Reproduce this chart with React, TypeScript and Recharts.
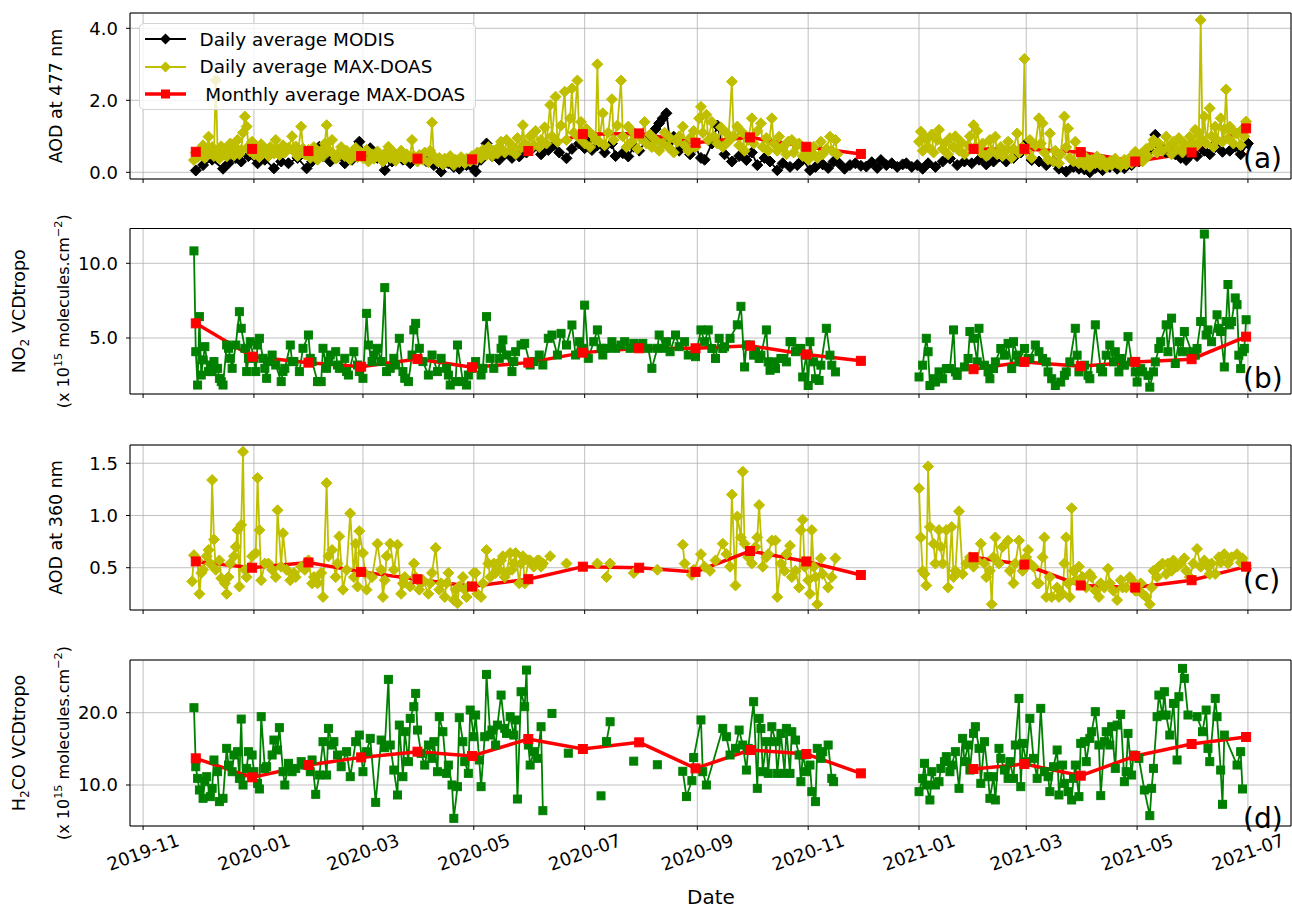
import React from 'react';
import { ComposedChart, Line, XAxis, YAxis, CartesianGrid, ReferenceArea, Legend, Customized } from 'recharts';

const FONT = 'DejaVu Sans';
const W = 1292;
const X_DOMAIN: [number, number] = [-7.2, 631.7];

// x values are days counted from 2019-11-01
const monthTicks = [0, 61, 121, 182, 243, 305, 366, 427, 486, 547, 608];
const monthLabels = ['2019-11', '2020-01', '2020-03', '2020-05', '2020-07', '2020-09', '2020-11', '2021-01', '2021-03', '2021-05', '2021-07'];

// month ends, Dec 2020 has no MAX-DOAS data
const monthEndDays = [29, 60, 91, 120, 151, 181, 212, 242, 273, 304, 334, 365, 395, 426, 457, 485, 516, 546, 577, 607];

const aod477Monthly = [0.57, 0.65, 0.59, 0.45, 0.38, 0.36, 0.59, 1.06, 1.08, 0.82, 0.97, 0.71, 0.51, null, 0.65, 0.65, 0.56, 0.3, 0.55, 1.22];
const no2Monthly = [5.98, 3.75, 3.35, 3.08, 3.59, 3.04, 3.35, 4.02, 4.31, 4.31, 4.48, 3.9, 3.47, null, 2.91, 3.4, 3.11, 3.4, 3.58, 5.09];
const aod360Monthly = [0.56, 0.5, 0.55, 0.46, 0.39, 0.32, 0.39, 0.51, 0.5, 0.46, 0.66, 0.56, 0.43, null, 0.6, 0.53, 0.33, 0.31, 0.38, 0.51];
const h2coMonthly = [13.69, 11.06, 12.76, 13.82, 14.61, 14.01, 16.36, 14.98, 15.9, 12.3, 14.84, 14.29, 11.61, null, 12.21, 12.9, 11.29, 14.01, 15.67, 16.64];

type Pt = [number, number | null];

const modisAod477: Pt[] = [
  [29,0.05],[33,0.2],[38,0.35],[44,0.1],[47,0.25],[51,0.4],[54,0.3],[58,0.45],[63,0.25],[67,0.35],[72,0.11],[76,0.3],[80,0.25],[85,0.4],[90,0.11],[93,0.3],[97,0.71],[99,0.45],[103,0.3],[107,0.42],[111,0.25],[115,0.35],[119,0.85],[122,0.55],[125,0.67],[129,0.4],[133,0.06],[137,0.3],[141,0.45],[143,0.35],[147,0.25],[151,0.4],[156,0.3],[160,0.2],[164,0.02],[168,0.25],[171,0.15],[174,0.1],[178,0.2],[181,0.15],[183,0.02],[186,0.35],[189,0.8],[192,0.45],[196,0.35],[199,0.5],[203,0.4],[207,0.44],[211,0.55],[215,0.7],[219,0.5],[223,0.62],[226,0.75],[229,0.55],[233,0.39],[236,0.65],[240,0.8],[243,0.67],[245,0.9],[247,0.62],[250,0.75],[254,0.55],[258,0.8],[260,0.45],[264,0.53],[267,0.44],[270,0.71],[273,0.6],[277,0.9],[280,1.0],[282,1.2],[284,1.36],[286,1.5],[288,1.64],[290,0.85],[292,0.99],[295,0.6],[298,0.75],[301,0.5],[304,0.7],[307,0.4],[309,0.35],[313,0.8],[316,1.3],[320,0.5],[324,0.3],[328,0.45],[332,0.34],[335,0.55],[338,0.2],[342,0.4],[345,0.3],[349,0.06],[352,0.25],[356,0.15],[360,0.2],[363,0.35],[367,0.06],[370,0.15],[374,0.22],[377,0.12],[380,0.3],[383,0.25],[386,0.1],[389,0.2],[392,0.25],[395,0.18],[398,0.16],[401,0.28],[404,0.12],[406,0.34],[409,0.2],[412,0.25],[415,0.15],[418,0.22],[420,0.25],[423,0.15],[426,0.2],[429,0.1],[432,0.25],[436,0.15],[440,0.3],[444,0.38],[448,0.2],[452,0.3],[456,0.25],[460,0.35],[464,0.22],[468,0.3],[471,0.44],[475,0.3],[479,0.4],[483,0.55],[486,0.8],[489,0.34],[493,0.3],[497,0.2],[501,0.3],[504,0.1],[508,0.02],[512,0.15],[515,0.1],[518,0.08],[521,0.0],[524,0.12],[528,0.06],[532,0.15],[536,0.1],[540,0.11],[544,0.2],[548,0.3],[552,0.45],[554,0.6],[557,1.04],[560,0.7],[563,0.55],[565,0.71],[568,0.5],[571,0.4],[574,0.34],[577,0.5],[580,0.45],[584,0.6],[587,0.5],[590,0.7],[594,0.57],[598,0.6],[601,0.71],[604,0.5],[608,0.8],
];

const doasAod477: Pt[] = [
  [28,0.34],[29,0.55],[30,0.42],[31,0.62],[32,0.48],[33,0.75],[34,0.4],[35,0.58],[36,0.99],[37,0.52],[38,0.7],[39,0.45],[40,2.56],[41,0.6],[42,0.38],[43,0.72],[44,0.5],[45,0.64],[46,0.44],[48,0.8],[49,0.55],[50,0.47],[51,0.68],[52,0.9],[53,0.5],[54,0.62],[55,1.1],[56,1.55],[57,1.27],[58,0.72],[59,0.58],[60,0.85],[61,0.5],[63,0.66],[64,0.42],[65,0.78],[66,0.55],[68,0.6],[69,0.45],[70,0.7],[72,0.52],[73,0.9],[74,0.62],[75,0.48],[77,0.75],[78,0.55],[80,0.68],[82,1.0],[83,0.58],[84,0.72],[85,0.45],[87,1.27],[88,0.66],[89,0.5],[91,0.62],[92,0.4],[94,0.7],[95,0.52],[96,0.35],[98,0.6],[99,0.45],[100,0.8],[101,1.31],[102,0.62],[104,0.9],[105,0.5],[106,0.38],[108,0.55],[109,0.7],[111,0.45],[112,0.6],[114,0.35],[115,0.52],[117,0.68],[118,0.42],[120,0.55],[121,0.4],[123,0.62],[124,0.3],[126,0.5],[127,0.38],[129,0.58],[130,0.44],[132,0.3],[133,0.52],[135,0.71],[136,0.4],[138,0.55],[139,0.32],[141,0.48],[142,0.6],[144,0.36],[145,0.5],[147,0.42],[148,0.9],[149,0.45],[151,0.3],[152,0.48],[154,0.35],[155,0.55],[157,0.28],[158,0.6],[159,1.38],[160,0.45],[162,0.3],[163,0.4],[165,0.22],[166,0.38],[168,0.3],[169,0.45],[171,0.2],[172,0.35],[174,0.28],[175,0.42],[177,0.25],[178,0.38],[180,0.3],[181,0.45],[183,0.35],[184,0.55],[186,0.4],[187,0.62],[189,0.48],[190,0.7],[192,0.45],[193,0.6],[195,0.52],[196,0.71],[197,0.85],[199,0.55],[200,0.9],[202,0.62],[203,0.75],[205,0.5],[206,0.95],[208,0.68],[209,1.31],[210,0.8],[212,0.6],[213,1.0],[215,0.75],[216,1.15],[218,0.7],[219,0.9],[221,1.25],[222,0.8],[224,1.87],[225,1.0],[227,2.1],[228,0.85],[230,1.3],[232,2.24],[233,0.9],[235,1.5],[236,2.33],[237,1.1],[239,2.55],[240,0.95],[241,1.4],[243,0.8],[244,1.2],[246,0.7],[247,1.05],[249,0.9],[250,3.0],[251,0.85],[253,1.64],[254,0.75],[256,1.1],[258,2.03],[259,0.9],[261,1.3],[263,2.55],[264,1.0],[266,0.7],[267,1.27],[269,0.85],[270,1.1],[272,0.65],[274,0.95],[276,1.4],[277,0.8],[279,1.05],[280,0.7],[282,0.9],[284,0.6],[286,0.8],[287,1.1],[289,0.7],[290,0.95],[292,0.55],[294,0.85],[295,1.0],[297,1.27],[298,0.75],[300,0.6],[301,0.95],[303,1.15],[304,0.7],[306,1.5],[307,1.82],[308,1.1],[310,1.6],[311,0.9],[313,1.4],[314,1.0],[316,0.8],[318,1.25],[319,0.7],[321,1.1],[322,0.85],[324,2.52],[325,1.0],[327,1.27],[328,0.75],[330,1.1],[331,0.6],[333,0.9],[335,1.5],[336,0.8],[338,1.15],[340,1.36],[341,0.7],[343,0.95],[344,0.6],[346,1.5],[347,0.8],[349,0.6],[350,0.99],[352,0.7],[354,0.5],[355,0.85],[357,0.9],[358,0.55],[360,0.75],[361,0.8],[363,0.45],[365,0.6],[366,0.35],[368,0.55],[369,0.71],[371,0.4],[373,0.85],[374,0.5],[376,0.65],[378,0.99],[379,0.6],[381,0.9],[382,0.5],
  [383,null],
  [427,0.85],[428,1.13],[429,0.6],[431,0.95],[432,0.7],[434,1.05],[435,0.55],[437,0.9],[438,1.18],[440,0.65],[441,0.8],[443,0.5],[444,0.95],[446,0.7],[447,1.0],[449,0.6],[450,0.85],[452,0.5],[454,0.75],[455,1.0],[457,1.31],[458,0.7],[459,1.15],[461,0.55],[462,0.8],[464,0.45],[466,0.9],[467,0.6],[469,0.99],[470,0.5],[472,0.7],[473,0.45],[475,0.6],[476,0.85],[478,0.4],[479,0.65],[481,1.08],[482,0.55],[484,0.7],[485,3.15],[486,0.6],[488,0.9],[489,0.4],[491,0.75],[493,1.5],[494,0.8],[495,1.36],[496,0.55],[498,0.35],[499,1.08],[501,0.3],[502,0.6],[504,0.25],[505,0.5],[507,1.55],[508,0.7],[509,1.22],[510,0.4],[512,0.3],[513,0.85],[515,0.25],[516,0.5],[518,0.2],[519,0.4],[521,0.15],[522,0.35],[524,0.25],[525,0.44],[527,0.2],[528,0.35],[530,0.15],[532,0.3],[533,0.2],[535,0.38],[536,0.25],[538,0.18],[540,0.35],[541,0.22],[543,0.4],[544,0.25],[546,0.57],[547,0.35],[549,0.5],[550,0.3],[552,0.65],[553,0.45],[555,0.75],[556,0.9],[558,0.55],[559,0.8],[561,0.6],[563,0.99],[564,0.7],[566,0.5],[567,0.85],[569,0.65],[570,0.95],[572,0.55],[573,0.8],[575,0.7],[576,0.99],[578,0.8],[579,1.18],[580,0.75],[581,1.1],[582,4.23],[583,0.9],[584,1.55],[585,0.8],[587,1.78],[588,1.0],[589,0.7],[590,1.27],[591,0.9],[593,1.5],[594,0.85],[595,1.2],[596,2.3],[597,0.95],[598,1.27],[600,0.8],[601,1.1],[602,1.08],[604,0.75],[605,1.2],[606,1.0],[607,1.41],
];

const no2Daily: Pt[] = [
  [28,10.83],[29,4.08],[30,1.85],[31,6.43],[32,2.52],[33,3.53],[34,4.42],[36,2.75],[37,3.19],[38,2.75],[39,3.42],[41,2.97],[42,2.3],[43,2.08],[44,1.85],[46,4.53],[47,4.31],[48,3.64],[49,2.97],[51,4.53],[53,6.76],[54,5.65],[56,4.31],[57,2.75],[58,3.64],[59,4.75],[61,3.64],[62,2.75],[63,4.53],[64,4.98],[66,3.64],[67,2.97],[68,2.3],[69,3.42],[71,3.86],[73,3.19],[76,2.08],[77,2.75],[78,2.97],[81,4.53],[82,3.42],[83,3.42],[86,2.75],[88,4.31],[91,5.2],[92,3.64],[93,3.42],[96,2.08],[98,2.08],[99,4.31],[101,2.97],[102,3.42],[103,3.86],[106,4.08],[107,3.19],[108,2.97],[111,3.64],[112,2.75],[113,2.52],[116,4.08],[118,3.19],[119,2.75],[121,2.3],[123,6.65],[124,4.53],[126,3.42],[127,3.86],[129,4.31],[131,3.42],[133,8.37],[134,2.75],[136,2.97],[138,3.64],[139,3.19],[141,4.98],[143,2.75],[144,2.3],[146,2.08],[148,3.86],[149,5.54],[150,5.98],[152,4.31],[154,3.42],[157,2.52],[159,3.86],[162,2.75],[164,3.64],[167,2.97],[168,2.52],[169,1.85],[172,2.08],[173,4.53],[176,2.08],[178,1.85],[179,2.52],[181,2.97],[183,3.42],[186,2.52],[187,2.97],[189,6.43],[191,3.64],[193,2.97],[196,3.64],[197,4.31],[198,4.87],[200,3.86],[203,2.75],[204,3.42],[205,4.08],[208,4.53],[210,4.64],[213,3.19],[215,3.42],[218,3.86],[220,3.19],[223,4.98],[225,5.2],[228,3.86],[230,5.31],[233,4.53],[236,5.87],[238,3.86],[240,4.75],[242,4.31],[243,7.2],[245,3.64],[248,4.75],[250,5.54],[252,4.31],[253,3.86],[255,4.31],[258,4.75],[260,4.31],[263,4.53],[265,4.75],[268,4.31],[270,4.64],[273,4.42],[275,4.64],[278,4.31],[280,2.97],[283,4.31],[284,5.2],[287,4.31],[288,4.75],[290,4.08],[293,5.2],[295,4.42],[298,4.75],[300,3.86],[304,3.75],[307,5.54],[309,4.75],[311,5.54],[313,4.3],[315,3.63],[317,4.98],[319,4.3],[320,4.41],[323,4.98],[327,5.88],[329,7.12],[331,3.06],[332,4.53],[334,4.53],[336,3.85],[337,4.08],[339,3.63],[340,3.85],[343,5.54],[344,3.4],[345,2.84],[347,3.4],[348,2.95],[351,3.63],[352,3.63],[354,3.4],[356,4.75],[357,4.75],[359,4.08],[361,4.3],[362,4.3],[363,2.39],[365,3.85],[366,1.82],[367,4.75],[369,3.4],[370,2.27],[372,2.16],[373,3.18],[376,5.65],[378,3.85],[379,3.18],[381,2.73],
  [382,null],
  [427,2.39],[429,3.18],[431,4.98],[432,4.08],[433,1.82],[435,2.27],[436,2.05],[438,2.73],[440,2.27],[442,2.95],[444,2.95],[446,5.54],[447,2.73],[448,2.5],[452,3.06],[454,3.63],[455,5.43],[457,4.98],[459,3.4],[460,5.65],[463,3.18],[465,2.73],[466,2.27],[468,2.95],[469,3.4],[472,4.3],[474,3.85],[476,4.64],[478,2.95],[479,4.75],[481,3.85],[482,3.4],[485,4.3],[487,3.63],[488,3.63],[491,4.53],[493,4.08],[495,3.63],[497,3.4],[498,2.73],[500,2.27],[502,1.82],[505,2.05],[507,2.5],[508,2.73],[510,3.4],[513,5.65],[514,3.85],[515,2.73],[518,3.18],[520,2.5],[521,2.27],[524,5.88],[527,2.95],[528,2.73],[530,3.85],[532,4.53],[534,3.4],[535,4.08],[537,2.73],[538,3.63],[540,3.18],[542,5.09],[544,3.4],[546,2.73],[547,2.05],[549,2.95],[550,2.73],[553,2.5],[554,1.71],[556,2.73],[557,3.4],[559,4.3],[560,4.75],[563,5.88],[564,4.08],[566,6.33],[568,3.29],[570,4.75],[572,4.08],[573,5.43],[577,4.08],[579,3.85],[580,4.3],[582,6.1],[584,11.96],[585,5.2],[586,5.54],[588,4.75],[591,6.55],[592,5.65],[593,5.43],[595,3.06],[596,6.1],[597,8.58],[598,5.88],[599,6.1],[601,7.68],[602,7.23],[603,3.85],[604,2.95],[605,4.08],[606,4.3],[607,6.22],
];

const aod360Daily: Pt[] = [
  [27,0.37],[28,0.62],[30,0.57],[31,0.25],[32,0.45],[33,0.48],[35,0.61],[36,0.67],[37,0.54],[38,1.34],[39,0.77],[40,0.48],[42,0.57],[43,0.4],[45,0.35],[46,0.25],[47,0.41],[48,0.54],[50,0.61],[51,0.7],[52,0.86],[53,0.32],[54,0.91],[55,1.61],[56,0.48],[57,0.41],[59,0.51],[60,0.61],[62,0.64],[63,1.36],[64,0.86],[65,0.38],[67,0.54],[69,0.54],[71,0.48],[73,0.41],[74,1.05],[76,0.51],[77,0.83],[79,0.48],[81,0.38],[83,0.45],[84,0.41],[87,0.51],[89,0.48],[91,0.57],[93,0.35],[94,0.41],[96,0.35],[98,0.45],[99,0.22],[101,1.31],[102,0.61],[104,0.67],[106,0.41],[107,0.54],[108,0.8],[110,0.29],[112,0.48],[114,1.02],[116,0.41],[117,0.73],[118,0.32],[119,0.85],[121,0.64],[122,0.45],[123,0.29],[126,0.41],[129,0.73],[131,0.48],[132,0.22],[133,0.38],[134,0.61],[136,0.73],[138,0.48],[140,0.72],[142,0.25],[143,0.35],[144,0.41],[147,0.32],[149,0.54],[150,0.41],[152,0.29],[153,0.35],[154,0.38],[157,0.25],[158,0.35],[159,0.45],[161,0.69],[163,0.29],[164,0.35],[166,0.22],[167,0.35],[168,0.45],[171,0.19],[172,0.29],[173,0.16],[174,0.32],[176,0.41],[177,0.29],[178,0.22],[179,0.32],[181,0.32],[182,0.45],[183,0.45],[184,0.25],[186,0.22],[187,0.35],[189,0.67],[190,0.54],[191,0.41],[193,0.54],[194,0.45],[196,0.48],[197,0.57],[198,0.61],[199,0.41],[200,0.45],[202,0.64],[203,0.48],[204,0.54],[205,0.64],[207,0.35],[208,0.54],[209,0.61],[210,0.35],[212,0.57],[213,0.57],[214,0.54],[215,0.51],[217,0.57],[218,0.57],[219,0.51],[220,0.54],[224,0.61],
  [228,null],[233,0.54],[236,null],[250,0.54],[253,null],[255,0.41],[257,0.54],[262,null],[270,0.45],[276,null],[283,0.48],[290,null],
  [297,0.72],[298,0.54],[302,0.43],[303,0.48],[307,0.63],[309,0.51],[312,0.47],[315,0.57],[319,0.73],[321,0.63],[323,0.51],[324,1.2],[326,0.33],[327,0.99],[329,0.79],[330,1.42],[331,0.73],[333,0.6],[335,0.54],[337,0.7],[338,0.79],[339,1.1],[341,0.51],[343,0.6],[344,0.63],[346,0.76],[348,0.76],[349,0.22],[351,0.54],[353,0.47],[354,0.63],[356,0.71],[357,0.41],[359,0.47],[361,0.31],[362,0.86],[363,0.96],[364,0.51],[366,0.38],[367,0.25],[368,0.86],[369,0.51],[370,0.41],[371,0.15],[373,0.59],[374,0.44],[377,0.31],[379,0.41],[381,0.59],
  [382,null],
  [427,1.26],[428,0.79],[429,0.47],[430,0.44],[431,0.33],[432,1.47],[433,0.89],[435,0.73],[436,0.54],[438,0.86],[439,0.7],[440,0.54],[442,0.86],[443,0.31],[445,0.89],[446,0.41],[447,0.47],[449,1.04],[451,0.44],[453,0.54],[455,0.6],[457,0.51],[459,0.57],[461,0.73],[463,0.54],[464,0.41],[466,0.47],[467,0.15],[468,0.6],[469,0.79],[471,0.54],[473,0.7],[476,0.76],[477,0.47],[479,0.35],[480,0.54],[482,0.76],[484,0.47],[486,0.6],[487,0.67],[488,0.54],[490,0.51],[492,0.35],[493,0.35],[495,0.6],[496,0.79],[497,0.22],[499,0.41],[500,0.22],[503,0.31],[504,0.22],[506,0.25],[507,0.54],[508,0.79],[509,0.35],[510,0.22],[511,1.07],[512,0.47],[513,0.38],[515,0.51],[517,0.41],[519,0.31],[521,0.44],[522,0.41],[524,0.28],[526,0.22],[527,0.35],[529,0.31],[531,0.49],[532,0.35],[534,0.28],[536,0.19],[538,0.38],[539,0.31],[541,0.31],[543,0.41],[544,0.38],[546,0.28],[547,0.28],[549,0.35],[550,0.25],[552,0.22],[554,0.15],[555,0.31],[556,0.47],[558,0.41],[559,0.51],[561,0.54],[563,0.44],[564,0.54],[566,0.47],[567,0.57],[569,0.51],[571,0.54],[573,0.59],[574,0.47],[576,0.41],[578,0.54],[580,0.68],[582,0.51],[584,0.57],[586,0.51],[587,0.44],[588,0.54],[590,0.44],[592,0.6],[593,0.55],[595,0.63],[597,0.54],[599,0.6],[602,0.63],[604,0.55],[605,0.59],[607,0.52],
];

const h2coDaily: Pt[] = [
  [28,20.69],[29,12.53],[30,10.92],[31,9.31],[33,8.16],[34,10.46],[35,11.15],[37,8.39],[38,9.54],[39,13.46],[41,11.84],[42,7.7],[44,8.16],[46,15.07],[47,12.76],[49,11.84],[50,14.15],[52,14.61],[53,10.92],[54,19.12],[55,10.0],[57,12.3],[58,14.61],[60,14.15],[61,11.84],[63,10.23],[64,9.45],[65,19.45],[67,12.3],[68,12.53],[71,14.15],[72,16.22],[74,14.84],[75,17.93],[77,11.84],[78,10.0],[80,13.0],[82,11.84],[84,12.3],[87,13.23],[89,12.76],[92,11.84],[93,13.46],[95,8.71],[97,11.38],[99,15.99],[101,11.38],[102,17.83],[104,15.53],[105,15.99],[107,14.15],[109,12.53],[112,14.61],[114,11.15],[117,15.99],[119,16.91],[121,11.84],[123,14.61],[125,16.45],[128,7.6],[131,16.22],[133,15.16],[135,24.61],[136,15.53],[138,12.07],[140,8.62],[141,18.29],[143,11.15],[144,17.37],[146,13.23],[147,19.22],[149,20.83],[150,22.67],[151,17.6],[153,14.38],[155,12.76],[157,15.53],[159,13.69],[160,15.99],[162,11.84],[163,19.45],[165,17.37],[167,11.61],[168,12.76],[170,10.0],[171,5.39],[173,9.77],[174,19.31],[176,15.99],[177,13.23],[179,11.61],[180,20.37],[182,16.68],[183,19.68],[185,13.46],[186,9.77],[188,16.68],[189,25.3],[191,16.91],[192,17.6],[194,15.53],[195,18.29],[197,22.44],[199,17.83],[200,17.14],[202,19.45],[204,16.91],[205,18.99],[206,8.06],[208,22.9],[210,20.83],[211,25.9],[212,15.53],[213,12.76],[215,14.61],[217,13.69],[219,18.06],[220,6.45],
  [222,null],[225,19.9],[229,null],[234,14.4],[240,null],[252,8.5],[253,null],[255,16.0],[257,18.75],[263,null],[270,13.3],[276,null],[283,12.8],[290,null],
  [297,11.9],[299,8.4],[302,10.6],[303,13.8],[307,19.0],[308,11.84],[310,10.0],[319,17.83],[321,16.68],[323,14.15],[326,15.07],[328,17.6],[330,15.53],[332,12.07],[333,15.07],[336,21.52],[338,9.54],[339,19.22],[340,17.83],[341,11.84],[343,15.99],[344,11.61],[346,18.06],[348,15.99],[349,11.61],[351,17.14],[353,11.61],[354,17.83],[356,11.61],[357,17.37],[359,16.22],[361,14.15],[362,10.46],[363,14.15],[365,11.84],[367,12.76],[368,9.08],[370,7.7],[371,15.07],[373,13.69],[374,14.61],[377,15.53],[379,10.92],[380,10.46],
  [381,null],
  [427,9.08],[429,10.92],[430,13.0],[431,10.0],[433,7.93],[434,11.84],[436,10.0],[438,10.46],[439,12.3],[441,13.23],[442,13.92],[444,11.84],[445,12.76],[447,14.61],[449,9.54],[451,16.45],[452,13.23],[454,15.53],[455,12.07],[457,17.14],[458,18.06],[460,15.07],[461,10.23],[463,15.99],[465,11.15],[466,8.16],[468,11.15],[469,7.93],[471,15.07],[472,13.69],[474,12.07],[476,10.92],[477,13.23],[479,10.92],[480,15.53],[482,21.98],[483,9.77],[484,15.76],[486,13.23],[488,19.22],[490,13.69],[492,10.92],[494,20.6],[496,11.84],[498,11.15],[499,9.08],[501,12.53],[503,14.84],[504,8.62],[506,12.76],[507,10.23],[509,9.08],[511,7.93],[512,10.92],[513,12.76],[515,8.39],[516,15.76],[518,15.99],[519,13.23],[521,16.45],[522,17.37],[524,20.14],[526,15.53],[527,8.53],[529,15.99],[530,17.37],[532,15.53],[533,18.06],[535,12.3],[536,18.29],[538,19.77],[540,10.46],[541,11.84],[542,17.14],[544,11.38],[545,14.15],[548,13.69],[551,9.31],[554,5.76],[555,9.54],[556,12.3],[558,19.45],[559,22.44],[561,19.68],[562,22.9],[563,19.68],[565,16.91],[567,21.29],[569,13.46],[570,22.21],[572,26.13],[573,24.75],[575,19.68],[580,19.45],[583,17.37],[585,20.37],[586,15.07],[587,13.23],[590,21.98],[591,19.45],[593,12.07],[594,7.33],[595,16.91],[602,12.76],[604,14.61],[605,9.45],
];

const YELLOW = '#bfbf00';
const GREEN = '#008000';
const RED = '#ff0000';

const rows = (pts: Pt[]) => pts.map(([d, v]) => ({ d, v }));
const monthlyRows = (vals: (number | null)[]) => monthEndDays.map((d, i) => ({ d, v: vals[i] }));

const diamondDot = (color: string, r: number) => (props: any) => {
  const { cx, cy, index, value } = props;
  if (cx == null || cy == null || value == null) return <g key={`e${index}`} />;
  return (
    <path key={`m${index}`} d={`M${cx},${cy - r}L${cx + r},${cy}L${cx},${cy + r}L${cx - r},${cy}Z`} fill={color} stroke={color} strokeWidth={1} />
  );
};

const squareDot = (color: string, s: number) => (props: any) => {
  const { cx, cy, index, value } = props;
  if (cx == null || cy == null || value == null) return <g key={`e${index}`} />;
  return <rect key={`m${index}`} x={cx - s / 2} y={cy - s / 2} width={s} height={s} fill={color} stroke={color} strokeWidth={1} />;
};

const NoTick = () => <g />;

const DateTick = (props: any) => {
  const { x, y, payload } = props;
  const i = monthTicks.indexOf(payload.value);
  const cy = y + 20;
  return (
    <text x={x} y={cy} textAnchor="middle" dominantBaseline="central" transform={`rotate(-20 ${x} ${cy})`}
      fontSize={18} fontFamily={FONT} fill="#000">
      {monthLabels[i]}
    </text>
  );
};

type Part = { t: string; s?: 'sub' | 'sup' };

function RotLine({ x, cy, parts, size }: { x: number; cy: number; parts: Part[]; size: number }) {
  const bx = x + size * 0.36;
  let off = 0;
  return (
    <text x={bx} y={cy} textAnchor="middle" transform={`rotate(-90 ${bx} ${cy})`} fontSize={size} fontFamily={FONT} fill="#000">
      {parts.map((p, j) => {
        const target = p.s === 'sub' ? 4 : p.s === 'sup' ? -6.5 : 0;
        const dy = target - off;
        off = target;
        return <tspan key={j} dy={dy} fontSize={p.s ? size * 0.7 : size}>{p.t}</tspan>;
      })}
    </text>
  );
}

function Notes({ titles, cy, tag, tagY, date }: any) {
  return (
    <g>
      {titles.map((t: any, i: number) => <RotLine key={i} x={t.x} cy={cy} parts={t.parts} size={t.size} />)}
      <text x={1243} y={tagY} fontSize={28} fontFamily={FONT} fill="#000">{tag}</text>
      {date && <text x={711} y={date} textAnchor="middle" fontSize={20} fontFamily={FONT} fill="#000">Date</text>}
    </g>
  );
}

const legendItems = [
  { label: 'Daily average MODIS', color: '#000000', shape: 'diamond', lw: 1.8 },
  { label: 'Daily average MAX-DOAS', color: YELLOW, shape: 'diamond', lw: 1.8 },
  { label: ' Monthly average MAX-DOAS', color: RED, shape: 'square', lw: 3.5 },
];

function LegendBox() {
  return (
    <div style={{ boxSizing: 'border-box', width: 337, height: 87, paddingTop: 1.25, border: '1px solid #d4d4d4', borderRadius: 5, background: 'rgba(255,255,255,0.8)', fontFamily: FONT, fontSize: 18.4, color: '#000' }}>
      {legendItems.map((it) => (
        <div key={it.label} style={{ height: 27.5, display: 'flex', alignItems: 'center' }}>
          <svg width={42} height={20} style={{ marginLeft: 5, flex: 'none' }}>
            <line x1={0} y1={10} x2={41} y2={10} stroke={it.color} strokeWidth={it.lw} />
            {it.shape === 'diamond'
              ? <path d="M20.5,4.5L26,10L20.5,15.5L15,10Z" fill={it.color} />
              : <rect x={16} y={5.5} width={9} height={9} fill={it.color} />}
          </svg>
          <span style={{ marginLeft: 12.5, whiteSpace: 'pre' }}>{it.label}</span>
        </div>
      ))}
    </div>
  );
}

function Panel(props: any) {
  const { top, height, mTop, mBottom, yDomain, yTicks, children, bottom, titles, tag, tagY, date, legend } = props;
  const plotH = height - mTop - mBottom;
  return (
    <div style={{ position: 'absolute', left: 0, top }}>
      <ComposedChart width={W} height={height} style={{ overflow: 'visible' }}
        margin={{ top: mTop, right: 1, bottom: mBottom - 1, left: 129 }}>
        <CartesianGrid stroke="#b0b0b0" strokeWidth={0.8} />
        <XAxis type="number" dataKey="d" domain={X_DOMAIN} ticks={monthTicks} allowDataOverflow interval={0}
          height={1} axisLine={false} tickLine={{ stroke: '#000' }} tickSize={4}
          tick={bottom ? <DateTick /> : <NoTick />} />
        <YAxis type="number" domain={yDomain} ticks={yTicks} allowDataOverflow interval={0} width={1}
          axisLine={false} tickLine={{ stroke: '#000' }} tickSize={4} tickMargin={8}
          tickFormatter={(v: number) => v.toFixed(1)}
          tick={{ fill: '#000', fontSize: 18, fontFamily: FONT }} />
        {children}
        <ReferenceArea x1={X_DOMAIN[0]} x2={X_DOMAIN[1]} y1={yDomain[0]} y2={yDomain[1]} fill="none" fillOpacity={0} stroke="#000" strokeWidth={1} ifOverflow="visible" />
        <Customized component={<Notes titles={titles} cy={mTop + plotH / 2} tag={tag} tagY={tagY} date={date} />} />
        {legend}
      </ComposedChart>
    </div>
  );
}

const lineBase = { type: 'linear' as const, dataKey: 'v', isAnimationActive: false, activeDot: false, connectNulls: false };

const unitsLine: Part[] = [{ t: '(x 10' }, { t: '15', s: 'sup' }, { t: ' molecules.cm' }, { t: '\u22122', s: 'sup' }, { t: ')' }];

export default function App() {
  return (
    <div style={{ position: 'absolute', left: 0, top: 0, width: W, height: 909, background: '#fff', fontFamily: FONT }}>
      <Panel top={0} height={200} mTop={13} mBottom={21} yDomain={[-0.186, 4.425]} yTicks={[0, 2, 4]}
        titles={[{ x: 56, size: 17.5, parts: [{ t: 'AOD at 477 nm' }] }]} tag="(a)" tagY={168}
        legend={<Legend layout="horizontal" verticalAlign="middle" align="center" width={337} height={87}
          wrapperStyle={{ left: 139, top: 23, width: 337, height: 87 }} content={() => <LegendBox />} />}>
        <Line {...lineBase} data={rows(modisAod477)} stroke="#000" strokeWidth={1.8} dot={diamondDot('#000', 5.5)} />
        <Line {...lineBase} data={rows(doasAod477)} stroke={YELLOW} strokeWidth={1.8} dot={diamondDot(YELLOW, 5.5)} />
        <Line {...lineBase} data={monthlyRows(aod477Monthly)} stroke={RED} strokeWidth={3.5} dot={squareDot(RED, 9)} />
      </Panel>
      <Panel top={200} height={215} mTop={28.5} mBottom={21} yDomain={[1.25, 12.33]} yTicks={[5, 10]}
        titles={[
          { x: 19, size: 17.5, parts: [{ t: 'NO' }, { t: '2', s: 'sub' }, { t: ' VCDtropo' }] },
          { x: 63, size: 16, parts: unitsLine },
        ]} tag="(b)" tagY={188}>
        <Line {...lineBase} data={rows(no2Daily)} stroke={GREEN} strokeWidth={1.8} dot={squareDot(GREEN, 8)} />
        <Line {...lineBase} data={monthlyRows(no2Monthly)} stroke={RED} strokeWidth={3.5} dot={squareDot(RED, 9)} />
      </Panel>
      <Panel top={415} height={215} mTop={30} mBottom={20} yDomain={[0.095, 1.675]} yTicks={[0.5, 1.0, 1.5]}
        titles={[{ x: 56, size: 17.5, parts: [{ t: 'AOD at 360 nm' }] }]} tag="(c)" tagY={175}>
        <Line {...lineBase} data={rows(aod360Daily)} stroke={YELLOW} strokeWidth={1.8} dot={diamondDot(YELLOW, 5.5)} />
        <Line {...lineBase} data={monthlyRows(aod360Monthly)} stroke={RED} strokeWidth={3.5} dot={squareDot(RED, 9)} />
      </Panel>
      <Panel top={630} height={279} mTop={30} mBottom={83} yDomain={[4.33, 27.29]} yTicks={[10, 20]} bottom
        titles={[
          { x: 19, size: 17.5, parts: [{ t: 'H' }, { t: '2', s: 'sub' }, { t: 'CO VCDtropo' }] },
          { x: 63, size: 16, parts: unitsLine },
        ]} tag="(d)" tagY={198} date={274}>
        <Line {...lineBase} data={rows(h2coDaily)} stroke={GREEN} strokeWidth={1.8} dot={squareDot(GREEN, 8)} />
        <Line {...lineBase} data={monthlyRows(h2coMonthly)} stroke={RED} strokeWidth={3.5} dot={squareDot(RED, 9)} />
      </Panel>
    </div>
  );
}
